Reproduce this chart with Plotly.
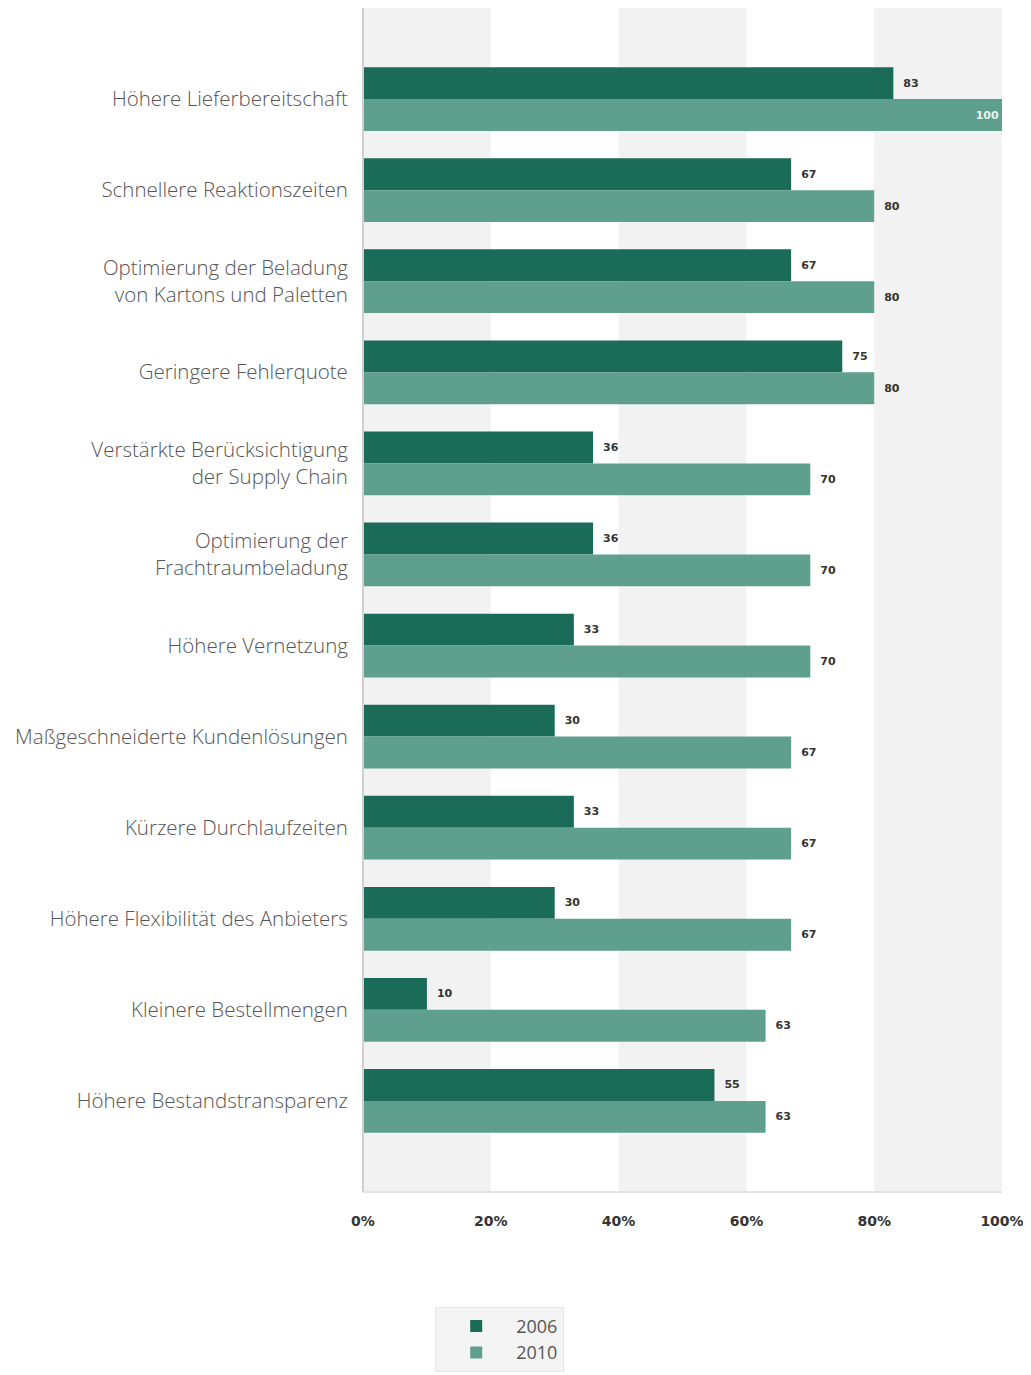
import plotly.graph_objects as go

categories = [
    "Höhere Lieferbereitschaft",
    "Schnellere Reaktionszeiten",
    "Optimierung der Beladung<br>von Kartons und Paletten",
    "Geringere Fehlerquote",
    "Verstärkte Berücksichtigung<br>der Supply Chain",
    "Optimierung der<br>Frachtraumbeladung",
    "Höhere Vernetzung",
    "Maßgeschneiderte Kundenlösungen",
    "Kürzere Durchlaufzeiten",
    "Höhere Flexibilität des Anbieters",
    "Kleinere Bestellmengen",
    "Höhere Bestandstransparenz",
]
values_2006 = [83, 67, 67, 75, 36, 36, 33, 30, 33, 30, 10, 55]
values_2010 = [100, 80, 80, 80, 70, 70, 70, 67, 67, 67, 63, 63]
tick_vals = [0, 20, 40, 60, 80, 100]
tick_text = ["0%", "20%", "40%", "60%", "80%", "100%"]

c2006 = "#1b6b59"
c2010 = "#5f9f8d"

fig = go.Figure()
for name, vals, col in [("2006", values_2006, c2006), ("2010", values_2010, c2010)]:
    fig.add_trace(go.Bar(
        y=categories, x=vals, name=name, orientation="h",
        marker=dict(color=col, line=dict(width=0)),
        text=[str(v) for v in vals],
        textposition=["inside" if v >= 100 else "outside" for v in vals],
        insidetextanchor="end",
        insidetextfont=dict(color="#e8f2ee", size=11, family="DejaVu Sans"),
        outsidetextfont=dict(color="#333333", size=11, family="DejaVu Sans"),
        texttemplate="\u00a0\u00a0<b>%{text}</b>",
        cliponaxis=False,
    ))

# alternating background bands
for i in range(0, len(tick_vals) - 1, 2):
    fig.add_shape(type="rect", xref="x", yref="paper",
                  x0=tick_vals[i], x1=tick_vals[i + 1], y0=0, y1=1,
                  fillcolor="#f2f2f2", line=dict(width=0), layer="below")
fig.add_shape(type="line", xref="paper", yref="paper", x0=0, x1=0, y0=0, y1=1,
              line=dict(color="#d0d0d0", width=2))
fig.add_shape(type="line", xref="paper", yref="paper", x0=0, x1=1, y0=0, y1=0,
              line=dict(color="#e2e2e2", width=2))

fig.update_layout(
    width=1031, height=1375,
    margin=dict(l=355, r=37, t=0, b=191),
    paper_bgcolor="white", plot_bgcolor="white",
    barmode="group", bargap=0.3, bargroupgap=0,
    showlegend=True,
    legend=dict(
        orientation="v", x=0.113, xanchor="left", y=-0.097, yanchor="top",
        bgcolor="#f4f4f4", bordercolor="#e6e6e6", borderwidth=1,
        font=dict(size=18, color="#555555", family="Open Sans"),
        itemwidth=70, tracegroupgap=0,
    ),
    font=dict(family="Open Sans", color="#444444"),
)
fig.update_xaxes(
    range=[0, 100], tickvals=tick_vals, ticktext=tick_text,
    showgrid=False, zeroline=False, showline=False,
    ticks="outside", ticklen=16, tickcolor="rgba(0,0,0,0)",
    tickfont=dict(size=14, color="#333333", family="DejaVu Sans", weight="bold"),
)
fig.update_yaxes(
    showgrid=False, zeroline=False, showline=False,
    ticks="outside", ticklen=10, tickcolor="rgba(0,0,0,0)",
    tickfont=dict(size=20.5, color="#555555", family="Open Sans", weight=300),
    autorange=False, range=[len(categories), -1],
)

fig.write_html("out.html")
